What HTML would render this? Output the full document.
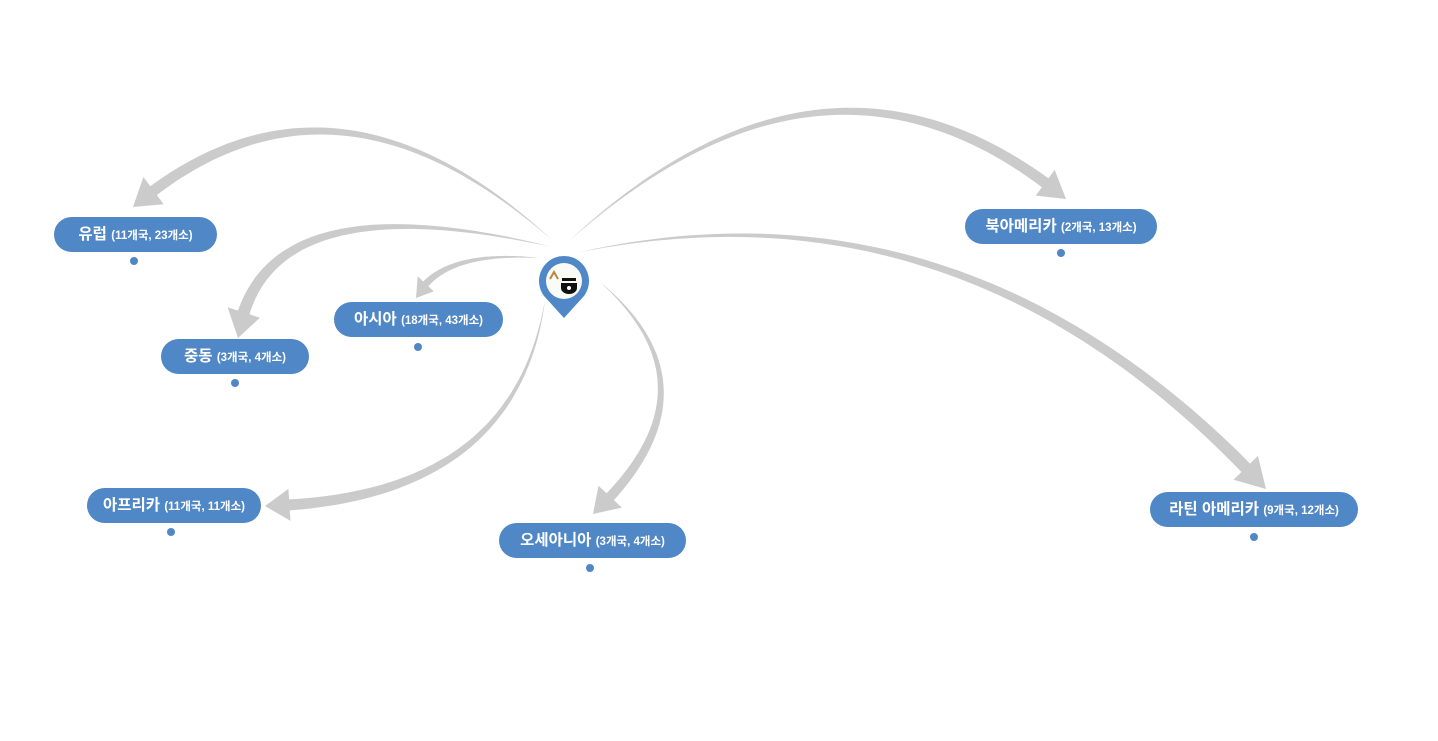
<!DOCTYPE html>
<html><head><meta charset="utf-8"><style>
body{margin:0;width:1438px;height:741px;background:#fff;position:relative;overflow:hidden;font-family:"Liberation Sans","Noto Sans CJK KR",sans-serif}
.p{position:absolute;background:#5087c6;color:#fff;border-radius:18px;height:35px;line-height:35px;text-align:center;font-weight:bold;font-size:15.5px;white-space:nowrap}
.p small{font-size:11.5px}
.d{position:absolute;width:8px;height:8px;border-radius:50%;background:#5087c6}
svg{position:absolute;left:0;top:0}
</style></head><body>
<svg id="s" width="1438" height="741"></svg>
<div class="p" style="left:54px;top:217px;width:163px">유럽 <small>(11개국, 23개소)</small></div><div class="d" style="left:130px;top:257px"></div>
<div class="p" style="left:161px;top:339px;width:148px">중동 <small>(3개국, 4개소)</small></div><div class="d" style="left:231px;top:379px"></div>
<div class="p" style="left:334px;top:302px;width:169px">아시아 <small>(18개국, 43개소)</small></div><div class="d" style="left:414px;top:343px"></div>
<div class="p" style="left:87px;top:488px;width:174px">아프리카 <small>(11개국, 11개소)</small></div><div class="d" style="left:167px;top:528px"></div>
<div class="p" style="left:499px;top:523px;width:187px">오세아니아 <small>(3개국, 4개소)</small></div><div class="d" style="left:586px;top:564px"></div>
<div class="p" style="left:965px;top:209px;width:192px">북아메리카 <small>(2개국, 13개소)</small></div><div class="d" style="left:1057px;top:249px"></div>
<div class="p" style="left:1150px;top:492px;width:208px">라틴 아메리카 <small>(9개국, 12개소)</small></div><div class="d" style="left:1250px;top:533px"></div>
<svg width="1438" height="741" style="pointer-events:none">
<path d="M564 318 L544 296 A25 25 0 1 1 584 296 Z" fill="#5087c6"/>
<circle cx="564" cy="281" r="18" fill="#fafaf7"/>
<path d="M550 279 L554 272 L558 279" stroke="#b8873a" stroke-width="2" fill="none"/>
<rect x="562" y="278" width="14" height="3" fill="#111"/>
<path d="M561 283 H577 V288 A8 6 0 0 1 561 288 Z" fill="#111"/>
<circle cx="569" cy="288" r="2" fill="#fff"/>
</svg>
<script>
var s=document.getElementById('s');
function arrow(x0,y0,cx,cy,x1,y1,w,hw,hl){
  var L=[],R=[],N=60;
  function pt(t){return [(1-t)*(1-t)*x0+2*(1-t)*t*cx+t*t*x1,(1-t)*(1-t)*y0+2*(1-t)*t*cy+t*t*y1];}
  function tg(t){var dx=2*(1-t)*(cx-x0)+2*t*(x1-cx),dy=2*(1-t)*(cy-y0)+2*t*(y1-cy);var l=Math.hypot(dx,dy);return [dx/l,dy/l];}
  var tEnd=1,acc=0,prev=pt(1);
  for(var t=1;t>0;t-=0.002){var p=pt(t);acc+=Math.hypot(p[0]-prev[0],p[1]-prev[1]);prev=p;if(acc>=hl){tEnd=t;break;}}
  for(var i=0;i<=N;i++){var t=tEnd*i/N,p=pt(t),d=tg(t),ww=w*Math.pow(i/N,0.8)/2;
    L.push([p[0]-d[1]*ww,p[1]+d[0]*ww]);R.push([p[0]+d[1]*ww,p[1]-d[0]*ww]);}
  var pb=pt(tEnd),d=tg(tEnd);
  var pts=L.slice();
  pts.push([pb[0]-d[1]*hw/2,pb[1]+d[0]*hw/2]);pts.push([x1,y1]);pts.push([pb[0]+d[1]*hw/2,pb[1]-d[0]*hw/2]);
  pts=pts.concat(R.reverse());
  var e=document.createElementNS('http://www.w3.org/2000/svg','polygon');
  e.setAttribute('points',pts.map(function(q){return q[0].toFixed(1)+','+q[1].toFixed(1)}).join(' '));
  e.setAttribute('fill','#cbcbcb');s.appendChild(e);
}
arrow(552,240,330,40,133,207,11,34,26);
arrow(548,246,260,180,238,338,12,34,26);
arrow(540,258,440,250,416,298,7,22,17);
arrow(545,300,515,500,265,506,11,32,24);
arrow(600,282,725,390,593,514,10,32,24);
arrow(570,240,830,5,1066,199,11,32,26);
arrow(580,252,970,170,1266,489,12,34,28);
</script>
</body></html>
